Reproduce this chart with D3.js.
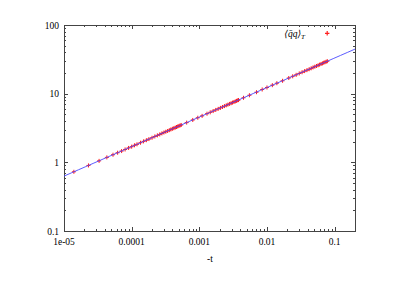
<!DOCTYPE html>
<html>
<head>
<meta charset="utf-8">
<script src="https://cdn.jsdelivr.net/npm/d3@7"></script>
<style>
  body { margin: 0; background: #fff; }
  svg text { font-family: "Liberation Serif", "DejaVu Serif", serif; font-size: 9.5px; fill: #000; }
</style>
</head>
<body>
<svg id="chart" width="399" height="282"></svg>
<script>
// -t values and condensate data
const tValues = [
  1.4e-5, 2.3e-5, 3.3e-5, 4.3e-5, 5.3e-5, 6.2e-5, 7.1e-5, 8.0e-5, 9.0e-5, 1.0e-4,
  1.1e-4, 1.2e-4, 1.35e-4, 1.5e-4, 1.65e-4, 1.8e-4, 2.0e-4, 2.2e-4, 2.4e-4, 2.6e-4,
  2.8e-4, 3.0e-4, 3.2e-4, 3.4e-4, 3.6e-4, 3.8e-4, 4.0e-4, 4.2e-4, 4.4e-4, 4.6e-4,
  4.8e-4, 5.0e-4, 5.2e-4, 5.4e-4,
  6.5e-4, 8e-4, 9.5e-4, 1.1e-3,
  1.3e-3, 1.45e-3, 1.6e-3, 1.75e-3, 1.9e-3, 2.05e-3, 2.2e-3, 2.35e-3, 2.5e-3, 2.65e-3,
  2.8e-3, 2.95e-3, 3.1e-3, 3.25e-3, 3.4e-3, 3.55e-3, 3.7e-3, 3.8e-3,
  4.5e-3, 5.5e-3, 7e-3, 8.5e-3, 0.010, 0.012, 0.014, 0.017,
  0.021, 0.024, 0.027, 0.030, 0.033, 0.036, 0.039, 0.042, 0.045, 0.048,
  0.051, 0.054, 0.057, 0.060, 0.063, 0.066, 0.069, 0.072, 0.075, 0.078
];
const qqValues = [
  0.728, 0.901, 1.05, 1.18, 1.29, 1.38, 1.46, 1.54, 1.62, 1.69,
  1.77, 1.83, 1.93, 2.02, 2.10, 2.18, 2.28, 2.38, 2.47, 2.55,
  2.64, 2.72, 2.79, 2.86, 2.94, 3.01, 3.08, 3.14, 3.20, 3.27,
  3.33, 3.39, 3.45, 3.50,
  3.79, 4.14, 4.46, 4.75,
  5.11, 5.35, 5.58, 5.80, 6.01, 6.21, 6.40, 6.59, 6.76, 6.93,
  7.10, 7.26, 7.41, 7.57, 7.71, 7.86, 8.00, 8.09,
  8.71, 9.48, 10.5, 11.5, 12.3, 13.3, 14.2, 15.4,
  16.9, 17.9, 18.8, 19.7, 20.5, 21.3, 22.0, 22.7, 23.4, 24.1,
  24.7, 25.3, 25.9, 26.5, 27.1, 27.6, 28.2, 28.7, 29.2, 29.7
];

// power-law fit  A * (-t)^B
const fitA = 89;
const fitB = 0.43;

const xTicks = [1e-5, 1e-4, 1e-3, 1e-2, 1e-1];
const xTickLabels = ["1e-05", "0.0001", "0.001", "0.01", "0.1"];
const yTicks = [0.1, 1, 10, 100];
const yTickLabels = ["0.1", "1", "10", "100"];

const svg = d3.select("#chart");
const pL = 64, pR = 355, pT = 25, pB = 231;

const x = d3.scaleLog().domain([1e-5, 0.2]).range([pL, pR]);
const y = d3.scaleLog().domain([0.1, 100]).range([pB, pT]);

const frameColor = "#444";

// minor tick positions
const xMinor = [];
for (let e = -5; e <= -1; e++) for (let k = 2; k <= 9; k++) {
  const v = k * Math.pow(10, e);
  if (v <= 0.2) xMinor.push(v);
}
const yMinor = [];
for (let e = -1; e <= 1; e++) for (let k = 2; k <= 9; k++) yMinor.push(k * Math.pow(10, e));

const ticks = svg.append("g").attr("stroke", frameColor).attr("stroke-width", 1);

// x ticks bottom + top (mirrored)
xTicks.forEach(v => {
  const px = Math.round(x(v)) + 0.5;
  ticks.append("line").attr("x1", px).attr("x2", px).attr("y1", pB).attr("y2", pB - 4);
  ticks.append("line").attr("x1", px).attr("x2", px).attr("y1", pT).attr("y2", pT + 4);
});
xMinor.forEach(v => {
  const px = Math.round(x(v)) + 0.5;
  ticks.append("line").attr("x1", px).attr("x2", px).attr("y1", pB).attr("y2", pB - 2);
  ticks.append("line").attr("x1", px).attr("x2", px).attr("y1", pT).attr("y2", pT + 2);
});
// y ticks left + right
yTicks.forEach(v => {
  const py = Math.round(y(v)) + 0.5;
  ticks.append("line").attr("x1", pL).attr("x2", pL + 4).attr("y1", py).attr("y2", py);
  ticks.append("line").attr("x1", pR).attr("x2", pR - 4).attr("y1", py).attr("y2", py);
});
yMinor.forEach(v => {
  const py = Math.round(y(v)) + 0.5;
  ticks.append("line").attr("x1", pL).attr("x2", pL + 2).attr("y1", py).attr("y2", py);
  ticks.append("line").attr("x1", pR).attr("x2", pR - 2).attr("y1", py).attr("y2", py);
});

// frame
svg.append("rect")
  .attr("x", pL + 0.5).attr("y", pT + 0.5)
  .attr("width", pR - pL).attr("height", pB - pT)
  .attr("fill", "none").attr("stroke", frameColor).attr("stroke-width", 1);

// tick labels
svg.append("g").selectAll("text").data(xTicks).join("text")
  .attr("x", d => x(d)).attr("y", pB + 14)
  .attr("text-anchor", "middle")
  .text((d, i) => xTickLabels[i]);
svg.append("g").selectAll("text").data(yTicks).join("text")
  .attr("x", pL - 5).attr("y", d => y(d) + 3.5)
  .attr("text-anchor", "end")
  .text((d, i) => yTickLabels[i]);

svg.append("text").attr("x", 210).attr("y", 262).attr("text-anchor", "middle").text("-t");

// clip
svg.append("clipPath").attr("id", "clip").append("rect")
  .attr("x", pL).attr("y", pT).attr("width", pR - pL).attr("height", pB - pT);

// points (drawn under the fit line)
const pts = tValues.map((t, i) => ({ t: t, v: qqValues[i] }));
const plusPath = (cx, cy, s) => `M${cx - s},${cy}H${cx + s}M${cx},${cy - s}V${cy + s}`;
svg.append("g").attr("opacity", 0.9)
  .selectAll("path").data(pts).join("path")
  .attr("d", d => plusPath(x(d.t), y(d.v), 2))
  .attr("fill", "none")
  .attr("stroke", "#ff0000")
  .attr("stroke-width", 1);

// fit line
const fitT = d3.range(0, 41).map(i => Math.pow(10, -5 + i * Math.log10(0.2 / 1e-5) / 40));
svg.append("path")
  .attr("clip-path", "url(#clip)")
  .datum(fitT)
  .attr("fill", "none")
  .attr("stroke", "#4a4aff")
  .attr("stroke-width", 0.9)
  .attr("d", d3.line().x(d => x(d)).y(d => y(fitA * Math.pow(d, fitB))));

// legend
const leg = svg.append("text").attr("x", 305).attr("y", 37).attr("text-anchor", "end")
  .style("font-style", "italic");
leg.append("tspan").text("\u27E8q\u0304q\u27E9");
leg.append("tspan").attr("dy", 2).style("font-size", "7px").text("T");
svg.append("path")
  .attr("d", plusPath(327.2, 33.3, 2.2))
  .attr("fill", "none")
  .attr("stroke", "#ff2020")
  .attr("stroke-width", 1.2);
</script>
</body>
</html>
